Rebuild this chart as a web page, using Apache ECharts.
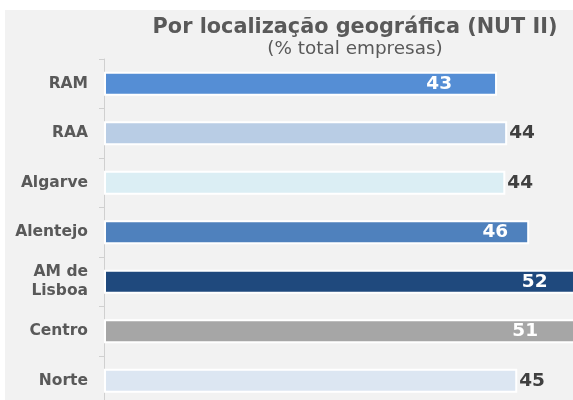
<!DOCTYPE html>
<html>
<head>
<meta charset="utf-8">
<script src="https://cdn.jsdelivr.net/npm/echarts@6/dist/echarts.min.js"></script>
<style>
  html, body { margin: 0; padding: 0; background: #ffffff; }
  #main { width: 573px; height: 400px; }
</style>
</head>
<body>
<div id="main"></div>
<script>
// regiões NUT II, de cima para baixo
const regions = ["RAM", "RAA", "Algarve", "Alentejo", "AM de\nLisboa", "Centro", "Norte"];
// % total empresas
const shares = [42.8, 43.9, 43.7, 46.3, 52.0, 51.3, 45.0];

const barColors = ["#558ed5", "#b9cde5", "#dbeef4", "#4f81bd", "#1f497d", "#a6a6a6", "#dce6f2"];
// rótulo dentro (branco) ou fora (escuro) da barra
const insideLabel = [true, false, false, true, true, true, false];
const insideDistance = [45, 0, 0, 21, 34, 37, 0];

const chart = echarts.init(document.getElementById("main"));

const option = {
  backgroundColor: "#ffffff",
  animation: false,
  graphic: [
    {
      type: "rect",
      z: -10,
      shape: { x: 5, y: 10, width: 600, height: 420 },
      style: { fill: "#f2f2f2" },
    },
  ],
  title: {
    text: "Por localização geográfica (NUT II)",
    subtext: "(% total empresas)",
    left: 350,
    top: 12,
    textAlign: "center",
    itemGap: 2,
    textStyle: {
      fontFamily: "DejaVu Sans",
      fontWeight: "bold",
      fontSize: 20.8,
      color: "#595959",
    },
    subtextStyle: {
      fontFamily: "DejaVu Sans",
      fontSize: 18.4,
      color: "#595959",
    },
  },
  grid: {
    left: 104,
    top: 59,
    width: 551, // o gráfico original está cortado à direita
    height: 346.5,
    outerBoundsMode: "none",
    containLabel: false,
  },
  xAxis: {
    type: "value",
    min: 0,
    max: 60,
    show: false,
  },
  yAxis: {
    type: "category",
    inverse: true,
    data: regions,
    axisLine: { show: true, lineStyle: { color: "#d0d0d0", width: 1 } },
    axisTick: { show: true, length: 5, lineStyle: { color: "#d0d0d0" } },
    axisLabel: {
      margin: 16,
      fontFamily: "DejaVu Sans",
      fontWeight: "bold",
      fontSize: 15.5,
      lineHeight: 19,
      color: "#595959",
    },
  },
  series: [
    {
      type: "bar",
      barWidth: 24,
      clip: false,
      data: shares.map((v, i) => ({
        value: v,
        itemStyle: {
          color: barColors[i],
          borderColor: "#ffffff",
          borderWidth: 2,
        },
        label: insideLabel[i]
          ? { position: "insideRight", distance: insideDistance[i], color: "#ffffff" }
          : { position: "right", distance: 2, color: "#404040" },
      })),
      label: {
        show: true,
        fontFamily: "DejaVu Sans",
        fontWeight: "bold",
        fontSize: 18.5,
        formatter: (p) => Math.round(p.value),
      },
    },
  ],
};

chart.setOption(option);
</script>
</body>
</html>
